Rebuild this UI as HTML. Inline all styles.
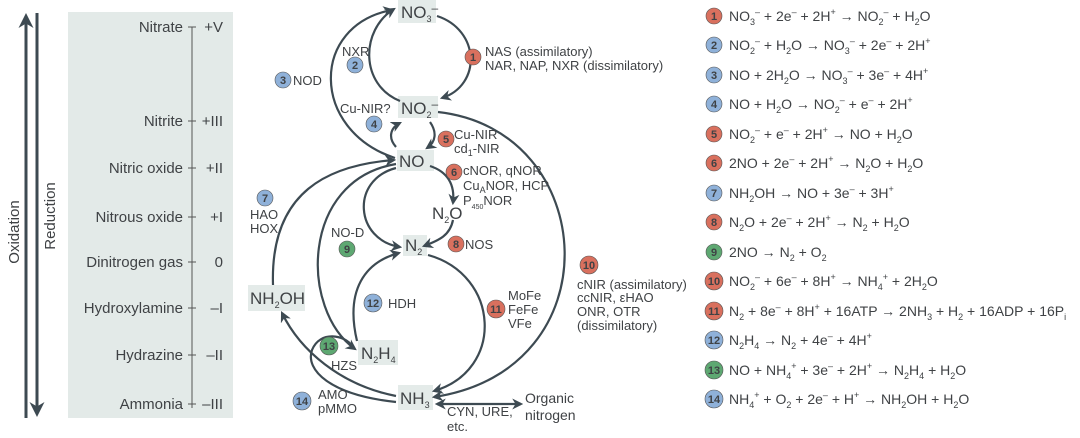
<!DOCTYPE html>
<html><head><meta charset="utf-8"><style>
html,body{margin:0;padding:0;background:#fff;}
svg{display:block;font-family:"Liberation Sans",sans-serif;}
text{fill:#3f4245;}
.b{fill:#e4ebe9;}
.l{fill:none;stroke:#3d4a52;stroke-width:2.2;}
.sub{font-size:9px;}
</style></head><body>
<svg width="1080" height="438" viewBox="0 0 1080 438">
<defs>
<marker id="a" viewBox="0 0 10 10" refX="8" refY="5" markerWidth="5" markerHeight="5" orient="auto-start-reverse"><path d="M0,0 L10,5 L0,10 L3,5 z" fill="#3d4a52"/></marker>
</defs>
<rect x="68" y="12" width="165" height="406" fill="#e3eae8"/>
<line x1="26" y1="418" x2="26" y2="16" class="l" style="stroke-width:3" marker-end="url(#a)"/>
<line x1="37" y1="13" x2="37" y2="414" class="l" style="stroke-width:3" marker-end="url(#a)"/>
<text transform="translate(19,232) rotate(-90)" font-size="15" text-anchor="middle">Oxidation</text>
<text transform="translate(55,216) rotate(-90)" font-size="15" text-anchor="middle">Reduction</text>
<line x1="192" y1="27" x2="192" y2="408" stroke="#555" stroke-width="1"/>
<g font-size="15" text-anchor="end">
<text x="183" y="32">Nitrate</text><text x="183" y="126">Nitrite</text><text x="183" y="173">Nitric oxide</text><text x="183" y="222">Nitrous oxide</text><text x="183" y="267">Dinitrogen gas</text><text x="183" y="313">Hydroxylamine</text><text x="183" y="360">Hydrazine</text><text x="183" y="409">Ammonia</text>
</g>
<g font-size="15" text-anchor="end">
<text x="223" y="32">+V</text><text x="223" y="126">+III</text><text x="223" y="173">+II</text><text x="223" y="222">+I</text><text x="223" y="267">0</text><text x="223" y="313">–I</text><text x="223" y="360">–II</text><text x="223" y="409">–III</text>
</g>
<g stroke="#555" stroke-width="1">
<line x1="188" y1="27" x2="196" y2="27"/><line x1="188" y1="121" x2="196" y2="121"/><line x1="188" y1="168" x2="196" y2="168"/><line x1="188" y1="217" x2="196" y2="217"/><line x1="188" y1="262" x2="196" y2="262"/><line x1="188" y1="308" x2="196" y2="308"/><line x1="188" y1="355" x2="196" y2="355"/><line x1="188" y1="404" x2="196" y2="404"/>
</g>
<rect class="b" x="398" y="0" width="38" height="23"/>
<rect class="b" x="398" y="96" width="40" height="22"/>
<rect class="b" x="397" y="150" width="37" height="21"/>
<rect class="b" x="403" y="235" width="24" height="21"/>
<rect class="b" x="248" y="285" width="57" height="26"/>
<rect class="b" x="358" y="340" width="40" height="25"/>
<rect class="b" x="398" y="385" width="35" height="25"/>
<path class="l" d="M437,16 C480,30 482,85 442,98" marker-end="url(#a)"/>
<path class="l" d="M400,101 C360,85 360,30 394,9" marker-end="url(#a)"/>
<path class="l" d="M395,158 C310,130 310,25 392,10" marker-end="url(#a)"/>
<path class="l" d="M396,147 C388,138 390,128 400,123" marker-end="url(#a)"/>
<path class="l" d="M430,122 C437,132 436,142 427,148" marker-end="url(#a)"/>
<path class="l" d="M430,166 C448,172 455,185 453,203" marker-end="url(#a)"/>
<path class="l" d="M453,220 C450,235 440,240 424,246" marker-end="url(#a)"/>
<path class="l" d="M396,168 C350,180 355,240 400,247" marker-end="url(#a)"/>
<path class="l" d="M438,112 C600,130 615,370 434,397" marker-end="url(#a)"/>
<path class="l" d="M428,255 C500,275 505,370 434,391" marker-end="url(#a)"/>
<path class="l" d="M273,285 C270,190 330,165 394,160" marker-end="url(#a)"/>
<path class="l" d="M396,164 C300,180 300,310 355,349" marker-end="url(#a)"/>
<path class="l" d="M357,341 C345,290 365,262 399,253" marker-end="url(#a)"/>
<path class="l" d="M396,396 C340,385 300,350 282,313" marker-end="url(#a)"/>
<path class="l" d="M396,402 C330,395 305,370 312,350 C320,330 345,335 352,346"/>
<path class="l" d="M437,404 L521,404" marker-start="url(#a)" marker-end="url(#a)"/>
<g font-size="17">
<text x="401" y="18">NO<tspan class="sub" dy="4">3</tspan><tspan font-size="12" dy="-10">–</tspan></text>
<text x="401" y="114">NO<tspan class="sub" dy="4">2</tspan><tspan font-size="12" dy="-10">–</tspan></text>
<text x="399" y="167">NO</text>
<text x="432" y="219">N<tspan class="sub" dy="4">2</tspan><tspan dy="-4">O</tspan></text>
<text x="405" y="251">N<tspan class="sub" dy="4">2</tspan></text>
<text x="250" y="304">NH<tspan class="sub" dy="4">2</tspan><tspan dy="-4">OH</tspan></text>
<text x="361" y="359">N<tspan class="sub" dy="4">2</tspan><tspan dy="-4">H</tspan><tspan class="sub" dy="4">4</tspan></text>
<text x="400" y="404">NH<tspan class="sub" dy="4">3</tspan></text>
</g>
<g font-size="13">
<text x="525" y="403" font-size="14">Organic</text><text x="525" y="420" font-size="14">nitrogen</text>
<text x="447" y="416">CYN, URE,</text><text x="447" y="431">etc.</text>
<text x="485" y="56">NAS (assimilatory)</text>
<text x="485" y="70">NAR, NAP, NXR (dissimilatory)</text>
<text x="342" y="56">NXR</text>
<text x="293" y="85">NOD</text>
<text x="340" y="113">Cu-NIR?</text>
<text x="454" y="139">Cu-NIR</text>
<text x="454" y="153">cd<tspan class="sub" dy="3">1</tspan><tspan dy="-3">-NIR</tspan></text>
<text x="463" y="175">cNOR, qNOR</text>
<text x="463" y="190">Cu<tspan class="sub" dy="3">A</tspan><tspan dy="-3">NOR, HCP</tspan></text>
<text x="463" y="205">P<tspan font-size="7" dy="4">450</tspan><tspan dy="-4">NOR</tspan></text>
<text x="465" y="249">NOS</text>
<text x="250" y="219">HAO</text><text x="250" y="233">HOX</text>
<text x="331" y="237">NO-D</text>
<text x="577" y="289">cNIR (assimilatory)</text>
<text x="577" y="302">ccNIR, εHAO</text>
<text x="577" y="316">ONR, OTR</text>
<text x="577" y="330">(dissimilatory)</text>
<text x="508" y="300">MoFe</text><text x="508" y="314">FeFe</text><text x="508" y="328">VFe</text>
<text x="388" y="308">HDH</text>
<text x="331" y="370">HZS</text>
<text x="318" y="399">AMO</text><text x="318" y="413">pMMO</text>
</g>
<g font-size="11" font-weight="bold" text-anchor="middle">
<circle cx="473" cy="57" r="8" fill="#d9705e" stroke="#555" stroke-width="0.6"/><text x="473" y="61">1</text>
<circle cx="355" cy="65" r="8" fill="#8fb1d9" stroke="#555" stroke-width="0.6"/><text x="355" y="69">2</text>
<circle cx="283" cy="80" r="8" fill="#8fb1d9" stroke="#555" stroke-width="0.6"/><text x="283" y="84">3</text>
<circle cx="374" cy="124" r="8" fill="#8fb1d9" stroke="#555" stroke-width="0.6"/><text x="374" y="128">4</text>
<circle cx="446" cy="139" r="8" fill="#d9705e" stroke="#555" stroke-width="0.6"/><text x="446" y="143">5</text>
<circle cx="454" cy="172" r="8" fill="#d9705e" stroke="#555" stroke-width="0.6"/><text x="454" y="176">6</text>
<circle cx="265" cy="198" r="8" fill="#8fb1d9" stroke="#555" stroke-width="0.6"/><text x="265" y="202">7</text>
<circle cx="456" cy="244" r="8" fill="#d9705e" stroke="#555" stroke-width="0.6"/><text x="456" y="248">8</text>
<circle cx="347" cy="249" r="8" fill="#5ea872" stroke="#555" stroke-width="0.6"/><text x="347" y="253">9</text>
<circle cx="589" cy="265" r="9" fill="#d9705e" stroke="#555" stroke-width="0.6"/><text x="589" y="269">10</text>
<circle cx="496" cy="309" r="9" fill="#d9705e" stroke="#555" stroke-width="0.6"/><text x="496" y="313">11</text>
<circle cx="373" cy="303" r="9" fill="#8fb1d9" stroke="#555" stroke-width="0.6"/><text x="373" y="307">12</text>
<circle cx="329" cy="346" r="9" fill="#5ea872" stroke="#555" stroke-width="0.6"/><text x="329" y="350">13</text>
<circle cx="302" cy="401" r="9" fill="#8fb1d9" stroke="#555" stroke-width="0.6"/><text x="302" y="405">14</text>
</g>
<g font-size="11" font-weight="bold" text-anchor="middle">
<circle cx="714" cy="16" r="8" fill="#d9705e" stroke="#555" stroke-width="0.6"/><text x="714" y="20">1</text>
<circle cx="714" cy="45" r="8" fill="#8fb1d9" stroke="#555" stroke-width="0.6"/><text x="714" y="49">2</text>
<circle cx="714" cy="75" r="8" fill="#8fb1d9" stroke="#555" stroke-width="0.6"/><text x="714" y="79">3</text>
<circle cx="714" cy="104" r="8" fill="#8fb1d9" stroke="#555" stroke-width="0.6"/><text x="714" y="108">4</text>
<circle cx="714" cy="134" r="8" fill="#d9705e" stroke="#555" stroke-width="0.6"/><text x="714" y="138">5</text>
<circle cx="714" cy="163" r="8" fill="#d9705e" stroke="#555" stroke-width="0.6"/><text x="714" y="167">6</text>
<circle cx="714" cy="193" r="8" fill="#8fb1d9" stroke="#555" stroke-width="0.6"/><text x="714" y="197">7</text>
<circle cx="714" cy="222" r="8" fill="#d9705e" stroke="#555" stroke-width="0.6"/><text x="714" y="226">8</text>
<circle cx="714" cy="252" r="8" fill="#5ea872" stroke="#555" stroke-width="0.6"/><text x="714" y="256">9</text>
<circle cx="714" cy="281" r="9" fill="#d9705e" stroke="#555" stroke-width="0.6"/><text x="714" y="285">10</text>
<circle cx="714" cy="311" r="9" fill="#d9705e" stroke="#555" stroke-width="0.6"/><text x="714" y="315">11</text>
<circle cx="714" cy="340" r="9" fill="#8fb1d9" stroke="#555" stroke-width="0.6"/><text x="714" y="344">12</text>
<circle cx="714" cy="370" r="9" fill="#5ea872" stroke="#555" stroke-width="0.6"/><text x="714" y="374">13</text>
<circle cx="714" cy="399" r="9" fill="#8fb1d9" stroke="#555" stroke-width="0.6"/><text x="714" y="403">14</text>
</g>
<g font-size="14">
<text x="729" y="21">NO<tspan class="sub" dy="4">3</tspan><tspan class="sub" dy="-10">–</tspan><tspan dy="6"> + 2e</tspan><tspan class="sub" dy="-6">–</tspan><tspan dy="6"> + 2H</tspan><tspan class="sub" dy="-6">+</tspan><tspan dy="6"> → NO</tspan><tspan class="sub" dy="4">2</tspan><tspan class="sub" dy="-10">–</tspan><tspan dy="6"> + H</tspan><tspan class="sub" dy="4">2</tspan><tspan dy="-4">O</tspan></text>
<text x="729" y="50">NO<tspan class="sub" dy="4">2</tspan><tspan class="sub" dy="-10">–</tspan><tspan dy="6"> + H</tspan><tspan class="sub" dy="4">2</tspan><tspan dy="-4">O → NO</tspan><tspan class="sub" dy="4">3</tspan><tspan class="sub" dy="-10">–</tspan><tspan dy="6"> + 2e</tspan><tspan class="sub" dy="-6">–</tspan><tspan dy="6"> + 2H</tspan><tspan class="sub" dy="-6">+</tspan></text>
<text x="729" y="80">NO + 2H<tspan class="sub" dy="4">2</tspan><tspan dy="-4">O → NO</tspan><tspan class="sub" dy="4">3</tspan><tspan class="sub" dy="-10">–</tspan><tspan dy="6"> + 3e</tspan><tspan class="sub" dy="-6">–</tspan><tspan dy="6"> + 4H</tspan><tspan class="sub" dy="-6">+</tspan></text>
<text x="729" y="109">NO + H<tspan class="sub" dy="4">2</tspan><tspan dy="-4">O → NO</tspan><tspan class="sub" dy="4">2</tspan><tspan class="sub" dy="-10">–</tspan><tspan dy="6"> +  e</tspan><tspan class="sub" dy="-6">–</tspan><tspan dy="6">  + 2H</tspan><tspan class="sub" dy="-6">+</tspan></text>
<text x="729" y="139">NO<tspan class="sub" dy="4">2</tspan><tspan class="sub" dy="-10">–</tspan><tspan dy="6"> + e</tspan><tspan class="sub" dy="-6">–</tspan><tspan dy="6"> + 2H</tspan><tspan class="sub" dy="-6">+</tspan><tspan dy="6"> → NO + H</tspan><tspan class="sub" dy="4">2</tspan><tspan dy="-4">O</tspan></text>
<text x="729" y="168">2NO + 2e<tspan class="sub" dy="-6">–</tspan><tspan dy="6"> + 2H</tspan><tspan class="sub" dy="-6">+</tspan><tspan dy="6"> → N</tspan><tspan class="sub" dy="4">2</tspan><tspan dy="-4">O + H</tspan><tspan class="sub" dy="4">2</tspan><tspan dy="-4">O</tspan></text>
<text x="729" y="198">NH<tspan class="sub" dy="4">2</tspan><tspan dy="-4">OH →  NO + 3e</tspan><tspan class="sub" dy="-6">–</tspan><tspan dy="6"> + 3H</tspan><tspan class="sub" dy="-6">+</tspan></text>
<text x="729" y="227">N<tspan class="sub" dy="4">2</tspan><tspan dy="-4">O + 2e</tspan><tspan class="sub" dy="-6">–</tspan><tspan dy="6"> + 2H</tspan><tspan class="sub" dy="-6">+</tspan><tspan dy="6"> → N</tspan><tspan class="sub" dy="4">2</tspan><tspan dy="-4"> + H</tspan><tspan class="sub" dy="4">2</tspan><tspan dy="-4">O</tspan></text>
<text x="729" y="257">2NO → N<tspan class="sub" dy="4">2</tspan><tspan dy="-4"> + O</tspan><tspan class="sub" dy="4">2</tspan></text>
<text x="729" y="286">NO<tspan class="sub" dy="4">2</tspan><tspan class="sub" dy="-10">–</tspan><tspan dy="6"> + 6e</tspan><tspan class="sub" dy="-6">–</tspan><tspan dy="6"> + 8H</tspan><tspan class="sub" dy="-6">+</tspan><tspan dy="6"> → NH</tspan><tspan class="sub" dy="4">4</tspan><tspan class="sub" dy="-10">+</tspan><tspan dy="6"> + 2H</tspan><tspan class="sub" dy="4">2</tspan><tspan dy="-4">O</tspan></text>
<text x="729" y="316">N<tspan class="sub" dy="4">2</tspan><tspan dy="-4"> + 8e</tspan><tspan class="sub" dy="-6">–</tspan><tspan dy="6"> + 8H</tspan><tspan class="sub" dy="-6">+</tspan><tspan dy="6"> + 16ATP → 2NH</tspan><tspan class="sub" dy="4">3</tspan><tspan dy="-4"> + H</tspan><tspan class="sub" dy="4">2</tspan><tspan dy="-4"> + 16ADP + 16P</tspan><tspan class="sub" dy="4">i</tspan></text>
<text x="729" y="345">N<tspan class="sub" dy="4">2</tspan><tspan dy="-4">H</tspan><tspan class="sub" dy="4">4</tspan><tspan dy="-4"> → N</tspan><tspan class="sub" dy="4">2</tspan><tspan dy="-4"> + 4e</tspan><tspan class="sub" dy="-6">–</tspan><tspan dy="6"> + 4H</tspan><tspan class="sub" dy="-6">+</tspan></text>
<text x="729" y="375">NO + NH<tspan class="sub" dy="4">4</tspan><tspan class="sub" dy="-10">+</tspan><tspan dy="6"> + 3e</tspan><tspan class="sub" dy="-6">–</tspan><tspan dy="6"> + 2H</tspan><tspan class="sub" dy="-6">+</tspan><tspan dy="6"> → N</tspan><tspan class="sub" dy="4">2</tspan><tspan dy="-4">H</tspan><tspan class="sub" dy="4">4</tspan><tspan dy="-4"> + H</tspan><tspan class="sub" dy="4">2</tspan><tspan dy="-4">O</tspan></text>
<text x="729" y="404">NH<tspan class="sub" dy="4">4</tspan><tspan class="sub" dy="-10">+</tspan><tspan dy="6"> + O</tspan><tspan class="sub" dy="4">2</tspan><tspan dy="-4"> + 2e</tspan><tspan class="sub" dy="-6">–</tspan><tspan dy="6"> + H</tspan><tspan class="sub" dy="-6">+</tspan><tspan dy="6"> → NH</tspan><tspan class="sub" dy="4">2</tspan><tspan dy="-4">OH + H</tspan><tspan class="sub" dy="4">2</tspan><tspan dy="-4">O</tspan></text>
</g>
</svg>
</body></html>
